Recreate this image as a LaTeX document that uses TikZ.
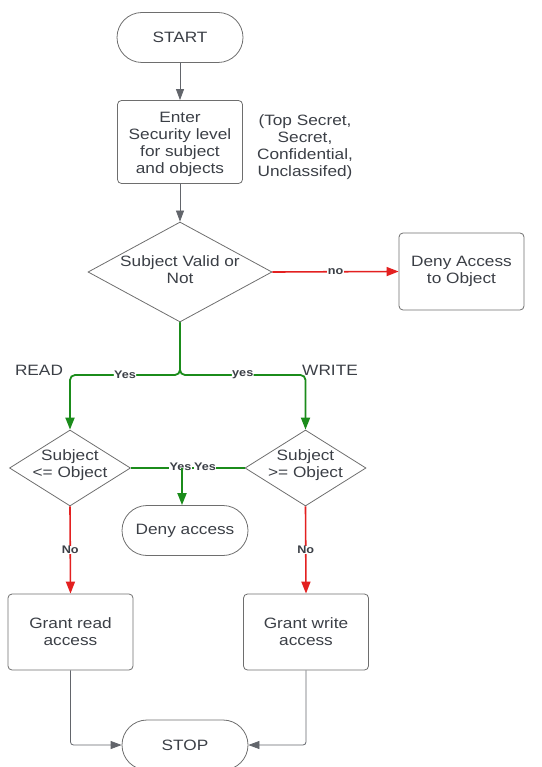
\documentclass[tikz,border=0pt]{standalone}
\usepackage{fontspec}
\setmainfont{Liberation Sans}[FakeStretch=1.15]
\usetikzlibrary{shapes.geometric,arrows.meta}

\definecolor{ink}{HTML}{3B3F46}
\definecolor{frame}{HTML}{6E6E6E}
\definecolor{yespath}{HTML}{1B8C1B}
\definecolor{nopath}{HTML}{E32020}

\tikzset{
  txt/.style={text=ink, font=\fontsize{15}{17}\selectfont, align=center},
  terminal/.style={txt, draw=frame, line width=0.8pt, rounded corners=25pt,
    minimum width=126pt, minimum height=50pt, inner sep=0pt},
  stepbox/.style={txt, draw=frame, line width=0.8pt, rounded corners=4pt,
    minimum width=125pt, inner sep=0pt},
  decision/.style={draw=frame, line width=0.8pt, diamond, inner sep=0pt},
  conn/.style={line width=0.8pt, color=ink!80,
    -{Triangle[length=11pt,width=8pt]}},
  okline/.style={draw=yespath, line width=1.8pt, rounded corners=5pt},
  noline/.style={color=nopath, line width=1.6pt},
  okarrow/.style={okline, color=yespath, -{Triangle[length=12pt,width=9pt]}},
  noarrow/.style={noline, -{Triangle[length=12pt,width=9pt]}},
  lbl/.style={text=ink, font=\bfseries\fontsize{11}{12}\selectfont,
    fill=white, inner sep=0.5pt},
}

\begin{document}
\begin{tikzpicture}[x=1pt,y=-1pt]
\useasboundingbox (0,0) rectangle (541,767);

% process nodes
\node[terminal] (start) at (180,37.5) {START};
\node[stepbox, minimum height=83pt] (enter) at (180,142) {};
\node[txt] (entertext) at (180,144)
  {Enter\\Security level\\for subject\\and objects};
\node[txt] (levels) at (305,147)
  {(Top Secret,\\Secret,\\Confidential,\\Unclassifed)};

\node[decision, minimum width=184pt, minimum height=100pt] (valid) at (180,272) {};
\node[txt] (validtext) at (180,270) {Subject Valid or\\Not};
\node[stepbox, minimum height=77pt] (deny) at (461.5,271.5)
  {Deny Access\\to Object};

\node[txt] (readlbl) at (39,370) {READ};
\node[txt] (writelbl) at (330,370) {WRITE};

\node[decision, minimum width=121pt, minimum height=76pt] (rd) at (70,468) {};
\node[txt] (rdtext) at (70,465.5) {Subject\\<= Object};
\node[decision, minimum width=121pt, minimum height=76pt] (wr) at (305.5,468) {};
\node[txt] (wrtext) at (305.5,465.5) {Subject\\>= Object};

\node[terminal] (denyacc) at (185,530.5) {Deny access};

\node[stepbox, minimum height=76pt] (gread) at (70.5,632) {Grant read\\access};
\node[stepbox, minimum height=76pt] (gwrite) at (306,632) {Grant write\\access};

\node[terminal] (stop) at (185,745) {STOP};

% connectors
\draw[conn] (start) -- (enter);
\draw[conn] (enter) -- (valid);
\draw[noarrow] (valid.east) -- node[lbl]{no} (deny.west);

\coordinate (split) at (180,375);
\draw[okarrow] (valid.south) -- (split) -| node[lbl, pos=0.25]{Yes} (rd.north);
\draw[okarrow] (valid.south) -- (split) -| node[lbl, pos=0.25]{yes} (wr.north);

% both comparisons meet above the deny terminal
\coordinate (meet) at (182,468);
\draw[okline] (rd.east) -- (wr.west);
\node[lbl] (y1) at (180.5,466.5) {Yes};
\node[lbl] (y2) at (205,466.5) {Yes};
\draw[okarrow] (meet) -- (meet |- denyacc.north);

\draw[noarrow] (rd.south) -- node[lbl]{No} (gread.north);
\draw[noarrow] (wr.south) -- node[lbl]{No} (gwrite.north);

\draw[conn, rounded corners=3pt] (gread.south) |- (stop.west);
\draw[conn, rounded corners=3pt] (gwrite.south) |- (stop.east);
\end{tikzpicture}
\end{document}
